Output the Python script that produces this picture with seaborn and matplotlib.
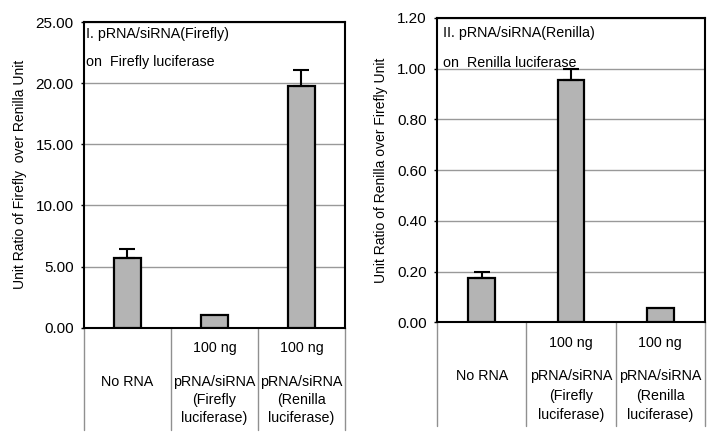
import matplotlib
matplotlib.use("Agg")
import matplotlib.pyplot as plt
import matplotlib.transforms as mtransforms
import seaborn as sns
import pandas as pd

categories = ["No RNA", "Firefly", "Renilla"]
cat_top = ["", "100 ng", "100 ng"]
cat_lines = [["No RNA"],
             ["pRNA/siRNA", "(Firefly", "luciferase)"],
             ["pRNA/siRNA", "(Renilla", "luciferase)"]]

firefly_vals = [5.74, 1.07, 19.8]
firefly_err = [0.7, 0.0, 1.3]
renilla_vals = [0.174, 0.955, 0.055]
renilla_err = [0.024, 0.045, 0.0]

left_ticks = [0, 5, 10, 15, 20, 25]
right_ticks = [0, 0.2, 0.4, 0.6, 0.8, 1.0, 1.2]

sns.set_theme(style="white")
plt.rcParams["font.family"] = ["Liberation Sans", "DejaVu Sans"]
plt.rcParams["text.color"] = "black"
plt.rcParams["axes.labelcolor"] = "black"
plt.rcParams["ytick.color"] = "black"

fig = plt.figure(figsize=(7.1, 4.4), dpi=100)
axL = fig.add_axes([0.1183, 0.2552, 0.3676, 0.6948])
axR = fig.add_axes([0.6155, 0.2675, 0.3775, 0.6916])

PX = 0.72  # points per pixel at 100 dpi

def draw(ax, vals, errs, ticks, ymax, ylabel, title1, title2, ylab_x,
         t_x, t_y1, t_y2, below, top_off, line_off, line_gap):
    df = pd.DataFrame({"cat": categories, "val": vals})
    sns.barplot(data=df, x="cat", y="val", ax=ax, color="#b4b4b4",
                edgecolor="black", linewidth=1.6, width=0.3, saturation=1,
                errorbar=None, zorder=3)
    xs = list(range(len(vals)))
    for x, v, e in zip(xs, vals, errs):
        if e > 0:
            ax.errorbar([x], [v], yerr=[[0], [e]], fmt="none", ecolor="black",
                        elinewidth=1.5, capsize=6, capthick=1.5, zorder=4)
    ax.set_ylim(0, ymax)
    ax.set_xlim(-0.5, 2.5)
    ax.set_yticks(ticks)
    ax.set_yticklabels([f"{t:.2f}" for t in ticks], fontsize=11)
    ax.yaxis.grid(True, color="#999999", linewidth=1.0, zorder=0)
    ax.set_axisbelow(True)
    ax.set_xticks([])
    ax.set_xlabel("")
    ax.set_ylabel(ylabel, fontsize=10)
    ax.yaxis.set_label_coords(ylab_x, 0.5)
    ax.tick_params(axis="y", length=2.5, width=1, color="black", left=True, pad=5)
    for s in ax.spines.values():
        s.set_color("black")
        s.set_linewidth(1.5)
    ax.text(t_x, t_y1, title1, transform=ax.transAxes, fontsize=10.3,
            va="center", ha="left")
    ax.text(t_x, t_y2, title2, transform=ax.transAxes, fontsize=10.3,
            va="center", ha="left")
    trans = mtransforms.blended_transform_factory(ax.transData, ax.transAxes)
    for xd in [-0.5, 0.5, 1.5, 2.5]:
        ax.plot([xd, xd], [0, below], transform=trans, color="#909090",
                linewidth=1.0, clip_on=False)
    for i in xs:
        if cat_top[i]:
            ax.annotate(cat_top[i], xy=(i, 0), xycoords=trans,
                        xytext=(0, -top_off * PX), textcoords="offset points",
                        ha="center", va="center", fontsize=10.3,
                        annotation_clip=False)
        for j, line in enumerate(cat_lines[i]):
            ax.annotate(line, xy=(i, 0), xycoords=trans,
                        xytext=(0, -(line_off + j * line_gap) * PX),
                        textcoords="offset points",
                        ha="center", va="center", fontsize=10.3,
                        annotation_clip=False)

draw(axL, firefly_vals, firefly_err, left_ticks, 25,
     "Unit Ratio of Firefly  over Renilla Unit",
     "I. pRNA/siRNA(Firefly)", "on  Firefly luciferase", -0.218,
     0.008, 0.961, 0.869, -0.335, 20.6, 54, 18)
draw(axR, renilla_vals, renilla_err, right_ticks, 1.2,
     "Unit Ratio of Renilla over Firefly Unit",
     "II. pRNA/siRNA(Renilla)", "on  Renilla luciferase", -0.182,
     0.022, 0.951, 0.852, -0.34, 21, 54, 19.5)

fig.savefig("out.png", dpi=100)
